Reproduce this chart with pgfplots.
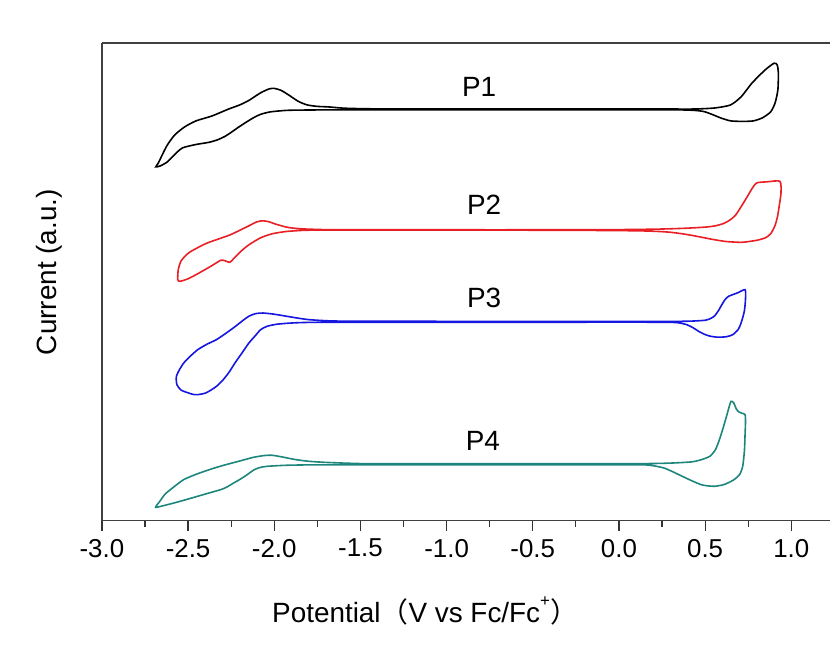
\documentclass[border=0pt]{standalone}
\usepackage{pgfplots}
\pgfplotsset{compat=1.18}
\usepackage{fontspec}
\setmainfont{Liberation Sans}
\newfontfamily\cjk{Noto Sans CJK SC}

\definecolor{cvred}{RGB}{232,32,38}
\definecolor{cvblue}{RGB}{22,22,225}
\definecolor{cvteal}{RGB}{28,134,124}

\begin{document}
\begin{tikzpicture}
\begin{axis}[
    scale only axis,
    width=729bp, height=478bp,
    xmin=-3.0, xmax=1.226,
    ymin=0, ymax=478,
    axis x line=box, axis y line=left,
    axis line style={-, line width=1.5bp, draw=black!75},
    xtick={-3,-2.5,-2,-1.5,-1,-0.5,0,0.5,1},
    minor x tick num=1,
    xtick pos=left,
    ytick=\empty,
    tick align=outside,
    major tick length=10bp, minor tick length=6bp,
    tick style={line width=1.2bp, black!80},
    /pgf/number format/assume math mode=true,
    xticklabel style={font=\fontsize{26}{30}\selectfont, yshift=-5bp,
        /pgf/number format/.cd, fixed, fixed zerofill, precision=1},
    xlabel={Potential{\cjk （}V vs Fc/Fc\raisebox{1.1ex}{\fontsize{17}{20}\selectfont +}{\cjk ）}},
    xlabel style={font=\fontsize{28}{32}\selectfont, at={(axis description cs:0.4437,0)}, anchor=base, yshift=-102bp},
    ylabel={Current (a.u.)},
    ylabel style={font=\fontsize{28}{32}\selectfont, at={(axis description cs:-0.0725,0.52)}, anchor=center},
    every axis plot/.append style={line width=1.6bp, smooth, tension=0.4},
]
% P1
\addplot[black] coordinates {
(-1.4,412) (-1.0,412) (-0.5,412) (0.0,412) (0.25,412) (0.38,411.8) (0.464,412) (0.56,413) (0.648,416)
(0.710,424.3) (0.771,437.7) (0.848,451) (0.900,457.7) (0.918,456) (0.925,448) (0.922,431) (0.906,418)
(0.880,409) (0.832,403) (0.780,400) (0.720,399.5) (0.648,400) (0.590,403) (0.540,406.5) (0.494,409.3)
(0.44,410.5) (0.36,411) (0.25,411) (0.0,411) (-0.5,411) (-1.0,411) (-1.4,411) (-1.7,411) (-1.85,410.8)
(-1.932,410.5) (-2.024,409) (-2.080,406.5) (-2.117,403.5) (-2.160,399) (-2.209,393.5) (-2.250,388.5)
(-2.286,384.5) (-2.330,381) (-2.380,378.5) (-2.450,376.5) (-2.532,373) (-2.580,366) (-2.620,359)
(-2.660,355) (-2.687,354) (-2.672,358) (-2.650,366) (-2.620,376) (-2.577,386) (-2.520,394) (-2.454,400)
(-2.360,405) (-2.270,411.5) (-2.200,416) (-2.147,420.5) (-2.080,428) (-2.030,432) (-2.000,432.5)
(-1.960,430.5) (-1.917,426) (-1.860,419.5) (-1.809,416) (-1.750,414.5) (-1.686,414) (-1.620,413)
(-1.563,412.5) (-1.48,412.2) (-1.4,412)
};
% P2
\addplot[cvred] coordinates {
(-1.660,291) (-1.2,291) (-0.5,291) (0.0,291.2) (0.231,291.7) (0.38,292.5) (0.502,293.7) (0.560,295)
(0.610,297.5) (0.650,301.5) (0.678,306) (0.712,315) (0.745,324.3) (0.775,333) (0.800,338) (0.860,339)
(0.934,339.5) (0.940,327.7) (0.930,315) (0.920,304.3) (0.905,295) (0.880,287) (0.850,283) (0.800,280.5)
(0.718,278.5) (0.660,278.8) (0.610,279.5) (0.540,281.5) (0.475,283.7) (0.420,285.5) (0.367,287)
(0.300,288.5) (0.231,289.3) (0.1,290) (-0.3,290.5) (-1.0,290.7) (-1.5,290.7) (-1.700,290.7) (-1.823,290.5)
(-1.930,289.3) (-2.012,287) (-2.079,283) (-2.147,276) (-2.190,270) (-2.225,264) (-2.258,258.5)
(-2.285,260) (-2.310,260.5) (-2.363,255) (-2.444,247) (-2.500,242) (-2.545,239.5) (-2.560,241)
(-2.557,251) (-2.540,260) (-2.498,267.7) (-2.440,273.5) (-2.390,277.7) (-2.320,282) (-2.255,286)
(-2.200,290.5) (-2.147,295) (-2.100,299) (-2.066,300) (-2.030,299) (-1.998,297) (-1.930,293.7)
(-1.880,292.5) (-1.823,291.8) (-1.74,291.3) (-1.660,291)
};
% P3
\addplot[cvblue] coordinates {
(-1.6,199.5) (-1.0,199.4) (-0.3,199.3) (0.2,199.3) (0.312,199.3) (0.420,199.6) (0.502,200.5) (0.535,202.5)
(0.556,205) (0.577,210) (0.597,216) (0.615,221) (0.637,224.5) (0.690,228) (0.732,231) (0.734,221)
(0.728,210) (0.718,203) (0.705,196) (0.691,191) (0.660,186) (0.624,184) (0.575,183.5) (0.529,184.5)
(0.495,186.5) (0.461,189.5) (0.430,193) (0.394,196) (0.350,197.8) (0.312,198.3) (0.2,198.5) (-0.3,198.5)
(-1.0,198.4) (-1.5,198.3) (-1.795,198.3) (-1.900,197.7) (-1.984,196.5) (-2.040,194.5) (-2.079,191)
(-2.110,185) (-2.147,177.7) (-2.190,167) (-2.228,157.7) (-2.260,149) (-2.296,141) (-2.330,135)
(-2.363,131) (-2.400,127.5) (-2.444,126) (-2.470,126.2) (-2.498,127.7) (-2.540,130.5) (-2.565,136)
(-2.568,144) (-2.550,151) (-2.525,157.7) (-2.490,164) (-2.444,171) (-2.390,176.5) (-2.336,181)
(-2.280,187.5) (-2.228,194) (-2.180,200.5) (-2.147,204.5) (-2.110,207) (-2.066,207.7) (-2.000,206.5)
(-1.930,204.5) (-1.860,202.5) (-1.795,201) (-1.70,200) (-1.6,199.5)
};
% P4
\addplot[cvteal] coordinates {
(-1.5,57) (-1.0,57) (-0.3,57) (0.151,57) (0.300,57.5) (0.421,58.7) (0.480,61) (0.529,64.5) (0.560,71)
(0.583,81) (0.605,93) (0.624,104.3) (0.638,113) (0.650,119.3) (0.665,118) (0.680,112) (0.691,109.3)
(0.710,107.5) (0.732,106) (0.734,97) (0.732,87.7) (0.728,70) (0.718,54.3) (0.700,46) (0.664,40.5)
(0.610,36) (0.556,34.3) (0.510,34.8) (0.475,36) (0.420,40) (0.367,44.3) (0.310,49) (0.259,52.7)
(0.200,54.8) (0.151,55.7) (0.0,55.8) (-0.5,55.8) (-1.2,55.8) (-1.600,55.7) (-1.795,55.7) (-1.930,55.3)
(-2.039,54.3) (-2.085,53) (-2.120,50.5) (-2.160,45.5) (-2.201,41) (-2.241,37) (-2.275,33.5) (-2.309,31)
(-2.380,27.5) (-2.444,24.3) (-2.510,21) (-2.579,17.7) (-2.640,15) (-2.688,13.3) (-2.665,19) (-2.633,26.5)
(-2.580,34) (-2.525,41) (-2.450,46.5) (-2.363,51.7) (-2.290,55.5) (-2.228,58.3) (-2.170,61) (-2.120,63.3)
(-2.060,65) (-2.012,65.3) (-1.950,63.5) (-1.877,61) (-1.800,59.3) (-1.714,58.3) (-1.6,57.5) (-1.5,57)
};
\node[font=\fontsize{28}{32}\selectfont] at (axis cs:-0.811,434.3) {P1};
\node[font=\fontsize{28}{32}\selectfont] at (axis cs:-0.782,316) {P2};
\node[font=\fontsize{28}{32}\selectfont] at (axis cs:-0.782,222.7) {P3};
\node[font=\fontsize{28}{32}\selectfont] at (axis cs:-0.790,79.3) {P4};
\end{axis}
\path (current axis.south west) ++(-102bp,-125bp) rectangle ++(831bp,646bp);
\end{tikzpicture}
\end{document}
